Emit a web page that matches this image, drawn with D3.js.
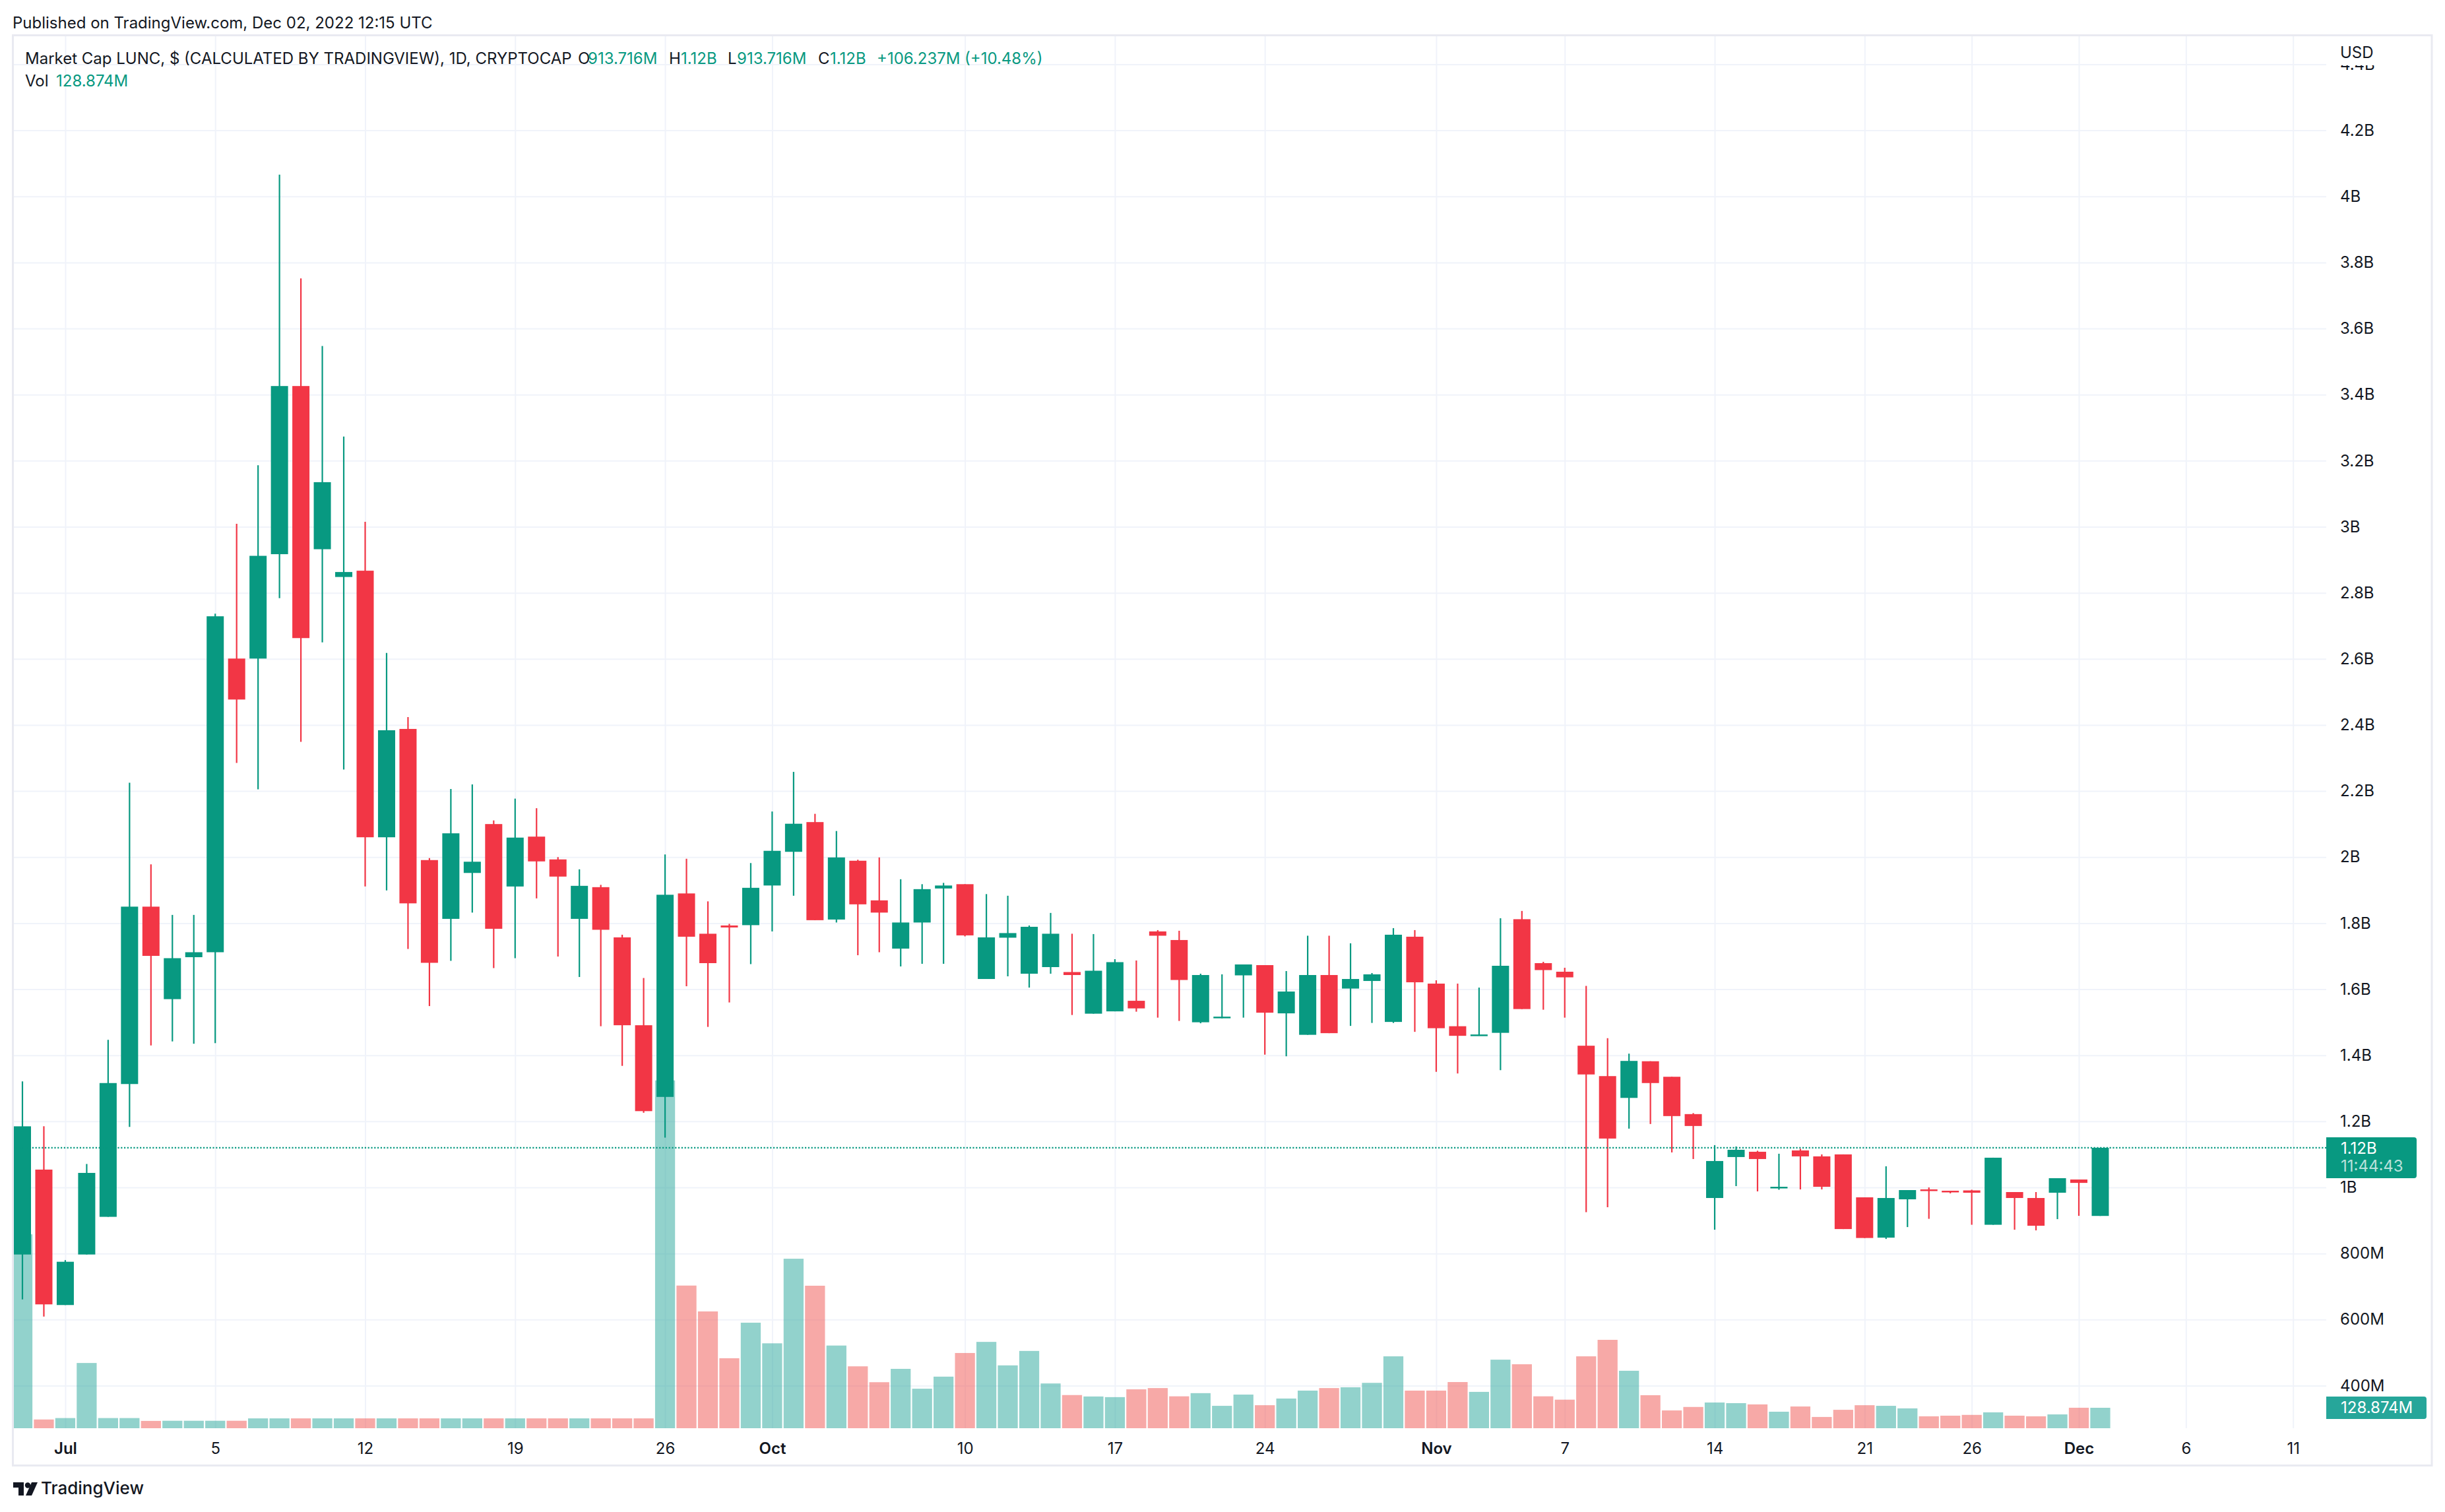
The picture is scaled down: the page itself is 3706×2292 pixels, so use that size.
<!DOCTYPE html>
<html>
<head>
<meta charset="utf-8">
<script src="https://cdn.jsdelivr.net/npm/d3@7"></script>
<style>
html,body{margin:0;padding:0;background:#fff;}
svg{display:block;}
text{font-family:Inter,"Noto Sans",Roboto,sans-serif;}
</style>
</head>
<body>
<svg id="chart" width="3706" height="2292"></svg>
<script>
// ---- DATA (market cap in billions USD, volume in millions) ----
const openB  = [0.797,1.054,0.644,0.797,0.911,1.313,1.850,1.570,1.697,1.712,
                2.601,2.601,2.917,3.426,2.932,2.848,2.867,2.060,2.388,1.991,
                1.813,1.952,2.100,1.911,2.062,1.993,1.813,1.909,1.757,1.491,
                1.274,1.890,1.768,1.793,1.794,1.914,2.016,2.106,1.811,1.989,
                1.869,1.723,1.802,1.905,1.918,1.631,1.756,1.647,1.667,1.652,
                1.526,1.533,1.565,1.775,1.749,1.500,1.512,1.642,1.673,1.527,
                1.462,1.643,1.602,1.625,1.501,1.759,1.617,1.488,1.459,1.468,
                1.812,1.679,1.653,1.429,1.337,1.271,1.382,1.335,1.222,0.968,
                1.092,1.108,0.998,1.112,1.094,1.100,0.970,0.848,0.964,0.994,
                0.990,0.991,0.887,0.986,0.968,0.984,1.024,0.913716];
const highB  = [1.321,1.185,0.780,1.071,1.447,2.225,1.978,1.825,1.825,2.737,
                3.009,3.186,4.066,3.752,3.547,3.273,3.015,2.618,2.424,1.997,
                2.206,2.220,2.111,2.177,2.148,2.000,1.963,1.916,1.765,1.634,
                2.008,1.995,1.866,1.798,1.982,2.138,2.258,2.131,2.079,1.992,
                1.999,1.933,1.918,1.922,1.918,1.888,1.883,1.793,1.831,1.768,
                1.767,1.691,1.687,1.779,1.777,1.647,1.645,1.675,1.673,1.655,
                1.762,1.762,1.739,1.649,1.785,1.779,1.627,1.617,1.605,1.815,
                1.837,1.683,1.665,1.610,1.452,1.405,1.382,1.335,1.225,1.128,
                1.124,1.111,1.102,1.117,1.100,1.100,0.970,1.064,0.992,1.000,
                0.990,0.993,1.090,0.986,0.986,1.028,1.024,1.12];
const lowB   = [0.661,0.609,0.644,0.797,0.911,1.183,1.430,1.442,1.435,1.437,
                2.285,2.205,2.784,2.349,2.650,2.265,1.911,1.899,1.722,1.549,
                1.686,1.832,1.664,1.694,1.875,1.699,1.637,1.488,1.368,1.226,
                1.151,1.609,1.486,1.560,1.676,1.775,1.883,1.809,1.802,1.703,
                1.712,1.669,1.677,1.677,1.760,1.631,1.639,1.605,1.647,1.522,
                1.526,1.533,1.532,1.514,1.504,1.497,1.512,1.514,1.402,1.397,
                1.462,1.467,1.489,1.498,1.498,1.471,1.350,1.345,1.459,1.355,
                1.540,1.538,1.514,0.925,0.940,1.178,1.192,1.106,1.086,0.872,
                1.004,0.988,0.993,0.994,0.994,0.874,0.847,0.844,0.880,0.905,
                0.982,0.887,0.887,0.872,0.870,0.904,0.914,0.913716];
const closeB = [1.185,0.646,0.775,1.044,1.316,1.850,1.701,1.694,1.712,2.729,
                2.477,2.912,3.426,2.663,3.135,2.863,2.060,2.384,1.860,1.680,
                2.072,1.986,1.783,2.059,1.987,1.941,1.913,1.780,1.491,1.231,
                1.886,1.759,1.679,1.787,1.907,2.019,2.101,1.809,1.999,1.857,
                1.832,1.802,1.903,1.914,1.763,1.757,1.770,1.789,1.768,1.643,
                1.656,1.682,1.542,1.762,1.628,1.643,1.517,1.675,1.529,1.593,
                1.643,1.467,1.631,1.645,1.765,1.621,1.482,1.459,1.463,1.671,
                1.540,1.658,1.636,1.342,1.148,1.383,1.316,1.216,1.186,1.080,
                1.114,1.086,1.002,1.094,1.002,0.874,0.847,0.968,0.992,0.989,
                0.986,0.984,1.090,0.968,0.884,1.028,1.013763,1.12];
const volumeM = [1222,55,64,411,64,64,46,47,47,47,
                 47,62,62,62,62,62,62,62,62,62,
                 62,62,62,62,62,62,62,62,62,62,
                 2192,899,736,441,665,535,1068,898,521,390,
                 290,374,249,325,474,544,396,487,282,209,
                 200,196,245,253,201,221,141,212,145,187,
                 237,253,258,286,453,237,237,291,229,432,
                 403,201,180,453,557,362,208,112,134,162,
                 158,150,104,137,71,116,145,141,125,75,
                 79,84,100,79,75,87,129,128.874];
const timeTickIndex  = [2,9,16,23,30,35,44,51,58,66,72,79,86,91,96,101,106];
const timeTickLabels = ['Jul','5','12','19','26','Oct','10','17','24','Nov','7','14','21','26','Dec','6','11'];
const monthLabels = ['Jul','Oct','Nov','Dec'];
const priceTicks = [0.4,0.6,0.8,1.0,1.2,1.4,1.6,1.8,2.0,2.2,2.4,2.6,2.8,3.0,3.2,3.4,3.6,3.8,4.0,4.2,4.4];
const countdown = '11:44:43';

// ---- LAYOUT ----
const W = 3706, H = 2292;
const paneL = 20, paneR = 3526, paneT = 54, paneB = 2165;
const UP = '#089981', DOWN = '#F23645';
const VUP = 'rgba(38,166,154,0.5)', VDOWN = 'rgba(239,83,80,0.5)';
const GRID = '#f0f3fa', TXT = '#131722';

const svg = d3.select('#chart');
svg.append('rect').attr('width', W).attr('height', H).attr('fill', '#fff');

const x = d3.scaleLinear().domain([0, 96]).range([34, 3151]);
const step = x(1) - x(0);
const y = d3.scaleLinear().domain([0.4, 4.4]).range([2100.45, 97.45]);
const vy = d3.scaleLinear().domain([0, 2200]).range([paneB, paneB - 2200 * 31 / 128.874]);

svg.append('defs').append('clipPath').attr('id', 'pane')
  .append('rect').attr('x', paneL).attr('y', paneT).attr('width', paneR - paneL).attr('height', paneB - paneT);

// Horizontal gridlines via axis
const gridH = svg.append('g').attr('transform', `translate(${paneR},0)`)
  .call(d3.axisLeft(y).tickValues(priceTicks).tickSize(paneR - paneL).tickFormat(''));
gridH.select('.domain').remove();
gridH.selectAll('line').attr('stroke', GRID).attr('stroke-width', 2);

// Vertical gridlines via axis
const gridV = svg.append('g').attr('transform', `translate(0,${paneB})`)
  .call(d3.axisTop(x).tickValues(timeTickIndex).tickSize(paneB - paneT).tickFormat(''));
gridV.select('.domain').remove();
gridV.selectAll('line').attr('stroke', GRID).attr('stroke-width', 2);

const bars = d3.range(closeB.length);
const plot = svg.append('g').attr('clip-path', 'url(#pane)');

// Volume
const vw = step - 2.2;
plot.append('g').selectAll('rect').data(bars).join('rect')
  .attr('x', i => x(i) - vw / 2)
  .attr('width', vw)
  .attr('y', i => vy(volumeM[i]))
  .attr('height', i => paneB - vy(volumeM[i]))
  .attr('fill', i => closeB[i] >= openB[i] ? VUP : VDOWN);

// Candles
const bw = 26;
const cg = plot.append('g');
cg.selectAll('line').data(bars).join('line')
  .attr('x1', i => x(i)).attr('x2', i => x(i))
  .attr('y1', i => y(highB[i])).attr('y2', i => y(lowB[i]))
  .attr('stroke', i => closeB[i] >= openB[i] ? UP : DOWN)
  .attr('stroke-width', 2.2);
cg.selectAll('rect').data(bars).join('rect')
  .attr('x', i => x(i) - bw / 2)
  .attr('width', bw)
  .attr('y', i => y(Math.max(openB[i], closeB[i])))
  .attr('height', i => Math.max(2.5, Math.abs(y(openB[i]) - y(closeB[i]))))
  .attr('fill', i => closeB[i] >= openB[i] ? UP : DOWN);

// Last price line
const last = closeB.length - 1;
svg.append('line')
  .attr('x1', paneL).attr('x2', paneR)
  .attr('y1', y(closeB[last])).attr('y2', y(closeB[last]))
  .attr('stroke', UP).attr('stroke-width', 2.2).attr('stroke-dasharray', '2.2,2.6');

// Formatting
const fmtCap = d => d >= 1 ? (+d.toFixed(2)) + 'B' : (+(d * 1000).toFixed(3)) + 'M';
const fmtFull = d => d >= 1 ? (+d.toFixed(2)) + 'B' : (d * 1000).toFixed(3) + 'M';

// Price axis labels
const pAxis = svg.append('g').attr('transform', `translate(${paneR},0)`)
  .call(d3.axisRight(y).tickValues(priceTicks).tickSize(0).tickPadding(21).tickFormat(fmtCap));
pAxis.select('.domain').remove();
pAxis.selectAll('text').attr('font-size', 24).attr('fill', TXT)
  .style('font-family', 'Inter, "Noto Sans", sans-serif');

// USD header covering top label
svg.append('rect').attr('x', paneR + 1).attr('y', paneT + 1).attr('width', 3685 - paneR - 1).attr('height', 99 - paneT - 1).attr('fill', '#fff');
svg.append('text').attr('x', 3547).attr('y', 80).attr('dy', '0.35em').attr('font-size', 24).attr('fill', TXT).text('USD');

// Last price label
const py = y(closeB[last]);
svg.append('path')
  .attr('d', `M${paneR},${py - 16} h133 a4,4 0 0 1 4,4 v54 a4,4 0 0 1 -4,4 h-133 z`)
  .attr('fill', UP);
svg.append('text').attr('x', 3548).attr('y', py + 1).attr('dy', '0.35em').attr('font-size', 24).attr('fill', '#fff').text(fmtCap(closeB[last]));
svg.append('text').attr('x', 3548).attr('y', py + 28).attr('dy', '0.35em').attr('font-size', 24).attr('fill', 'rgba(255,255,255,0.72)').text(countdown);

// Volume label
const vly = vy(volumeM[last]);
svg.append('path')
  .attr('d', `M${paneR},${vly - 17} h148 a4,4 0 0 1 4,4 v26 a4,4 0 0 1 -4,4 h-148 z`)
  .attr('fill', '#26a69a');
svg.append('text').attr('x', 3548).attr('y', vly).attr('dy', '0.35em').attr('font-size', 24).attr('fill', '#fff').text(volumeM[last].toFixed(3) + 'M');

// Time axis
const tAxis = svg.append('g').attr('transform', `translate(0,${paneB})`)
  .call(d3.axisBottom(x).tickValues(timeTickIndex).tickSize(0).tickPadding(22)
    .tickFormat((d, i) => timeTickLabels[i]));
tAxis.select('.domain').remove();
tAxis.selectAll('text').attr('font-size', 24).attr('fill', TXT)
  .style('font-family', 'Inter, "Noto Sans", sans-serif')
  .attr('font-weight', (d, i) => monthLabels.includes(timeTickLabels[i]) ? 600 : 400);

// Frame
svg.append('rect').attr('x', 19.5).attr('y', 53.5).attr('width', 3666.5).attr('height', 2168)
  .attr('fill', 'none').attr('stroke', '#e9eaf1').attr('stroke-width', 3);

// Header
svg.append('text').attr('x', 19).attr('y', 35).attr('dy', '0.35em').attr('font-size', 24).attr('fill', TXT)
  .text('Published on TradingView.com, Dec 02, 2022 12:15 UTC');

// Legend
const chg = closeB[last] - closeB[last - 1];
const legend = svg.append('text').attr('y', 89).attr('dy', '0.35em').attr('font-size', 24).attr('fill', TXT);
const parts = [
  [38, 'Market Cap LUNC, $ (CALCULATED BY TRADINGVIEW), 1D, CRYPTOCAP', TXT],
  [876, 'O', TXT], [891, fmtFull(openB[last]), UP],
  [1014, 'H', TXT], [1032, fmtFull(highB[last]), UP],
  [1103, 'L', TXT], [1117, fmtFull(lowB[last]), UP],
  [1240, 'C', TXT], [1258, fmtFull(closeB[last]), UP],
  [1329, '+' + (chg * 1000).toFixed(3) + 'M', UP],
  [1462, '(+' + (chg / closeB[last - 1] * 100).toFixed(2) + '%)', UP]
];
parts.forEach(p => legend.append('tspan').attr('x', p[0]).attr('fill', p[2]).text(p[1]));
const vol = svg.append('text').attr('y', 123).attr('dy', '0.35em').attr('font-size', 24).attr('fill', TXT);
vol.append('tspan').attr('x', 38).text('Vol');
vol.append('tspan').attr('x', 85).attr('fill', UP).text(volumeM[last].toFixed(3) + 'M');

// TradingView logo
const logo = svg.append('g').attr('fill', TXT);
logo.append('path').attr('d', 'M20,2247 h16 v20 h-8 v-12 h-8 z');
logo.append('circle').attr('cx', 42).attr('cy', 2251.5).attr('r', 4.2);
logo.append('path').attr('d', 'M48,2247 h9 l-9,20 h-9 z');
svg.append('text').attr('x', 62).attr('y', 2256).attr('dy', '0.35em').attr('font-size', 26)
  .attr('font-weight', 500).attr('fill', TXT).text('TradingView');
</script>
</body>
</html>
